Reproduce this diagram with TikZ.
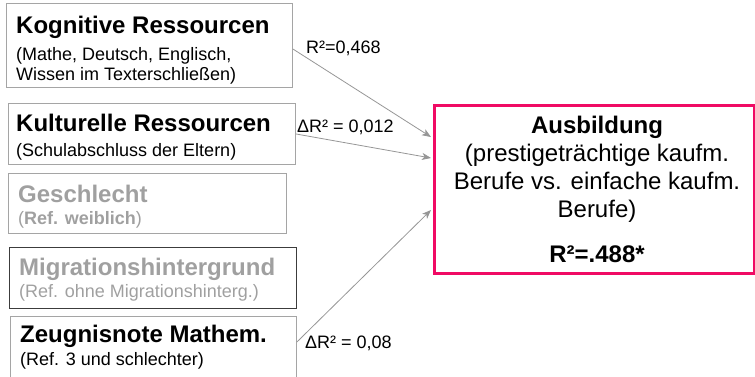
\documentclass[tikz,border=0pt]{standalone}
\usepackage{fontspec}
\setmainfont{Liberation Sans}
\usetikzlibrary{arrows.meta,calc}
\definecolor{pinkred}{RGB}{240,10,100}
\definecolor{boxgray}{RGB}{165,165,165}
\definecolor{darkbox}{RGB}{60,60,60}
\definecolor{txtgray}{RGB}{160,160,160}
\definecolor{arrgray}{RGB}{150,150,150}
\begin{document}
\begin{tikzpicture}[x=1pt,y=-1pt,
  box/.style={draw=boxgray, line width=0.9pt, anchor=north west, inner sep=0pt},
  ttl/.style={anchor=base west, inner sep=0pt, font=\fontsize{24}{28}\selectfont\bfseries},
  subt/.style={anchor=base west, inner sep=0pt, font=\fontsize{18}{21}\selectfont},
  ctr/.style={anchor=base, inner sep=0pt, font=\fontsize{24}{28}\selectfont},
  lbl/.style={anchor=base west, inner sep=0pt, font=\fontsize{18}{21}\selectfont},
  arr/.style={draw=arrgray, line width=0.8pt, -{Stealth[length=9pt,width=7pt,inset=2.5pt]}}]
\useasboundingbox (0,0) rectangle (755,376);
\clip (0,0) rectangle (755,376);
% left boxes
\node[box, minimum width=286pt, minimum height=84pt] (b1) at (6,3) {};
\node[ttl] (b1t) at (16,33) {Kognitive Ressourcen};
\node[subt] (b1s1) at (16,60) {(Mathe, Deutsch, Englisch,};
\node[subt] (b1s2) at (16,80) {Wissen im Texterschließen)};

\node[box, minimum width=287pt, minimum height=61pt] (b2) at (8,103) {};
\node[ttl] (b2t) at (16,131) {Kulturelle Ressourcen};
\node[subt] (b2s) at (16,156) {(Schulabschluss der Eltern)};

\node[box, minimum width=278pt, minimum height=60pt] (b3) at (8,173) {};
\node[ttl, text=txtgray] (b3t) at (18,202) {Geschlecht};
\node[subt, text=txtgray] (b3s) at (18,224) {(\textbf{Ref. weiblich})};

\node[box, draw=darkbox, minimum width=287pt, minimum height=61pt] (b4) at (9,247) {};
\node[ttl, text=txtgray] (b4t) at (19,275) {Migrationshintergrund};
\node[subt, text=txtgray] (b4s) at (19,297) {(Ref. ohne Migrationshinterg.)};

\node[box, minimum width=286pt, minimum height=72pt] (b5) at (10,316) {};
\node[ttl] (b5t) at (20,342) {Zeugnisnote Mathem.};
\node[subt] (b5s) at (20,365) {(Ref. 3 und schlechter)};

% target box
\node[draw=pinkred, line width=3pt, anchor=north west, inner sep=0pt,
      minimum width=320.5pt, minimum height=167.5pt] (tgt) at (432.5,104) {};
\node[ctr, font=\fontsize{24}{28}\selectfont\bfseries] (ta) at (597,133) {Ausbildung};
\node[ctr] (tb) at (597,161) {(prestigeträchtige kaufm.};
\node[ctr] (tc) at (597,189) {Berufe vs. einfache kaufm.};
\node[ctr] (td) at (597,217) {Berufe)};
\node[ctr, font=\fontsize{24}{28}\selectfont\bfseries] (te) at (597,262) {R²=.488*};

% arrows
\draw[arr] ($(b1.north east)+(0,46)$) -- ($(tgt.north west)+(-1.5,33)$);
\draw[arr] (b2.east) -- ($(tgt.north west)+(-1.5,54)$);
\draw[arr] ($(b5.north east)+(0,26)$) -- ($(tgt.north west)+(-1.5,106)$);

% labels
\node[lbl] (l1) at (306,53) {R²=0,468};
\node[lbl] (l2) at (297,132) {ΔR² = 0,012};
\node[lbl] (l3) at (305,348) {ΔR² = 0,08};
\end{tikzpicture}
\end{document}
